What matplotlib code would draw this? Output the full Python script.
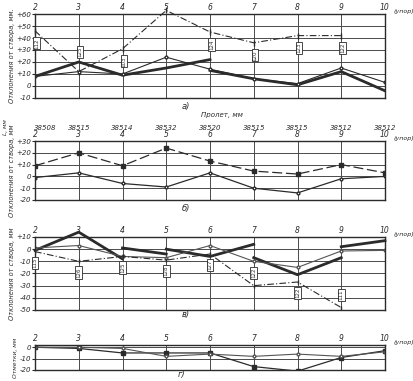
import matplotlib
matplotlib.use('Agg')
import matplotlib.pyplot as plt
import numpy as np

nan = np.nan

# supports
supports = [2, 3, 4, 5, 6, 7, 8, 9, 10]
spans = ['38508', '38515', '38514', '38532', '38520', '38515', '38515', '38512', '38512']

# panel a) deviations from alignment, mm
a_dash = [46, 12, 31, 63, 45, 36, 42, 42, nan]
a_thick1 = [8, 20, 9, 15, 22, nan, nan, nan, nan]
a_thick2 = [nan, nan, nan, nan, 13, 6, 1, 12, -4]
a_thin = [8, 12, 10, 24, 14, 6, 2, 15, 3]
a_boxes = ['112', '125', '103', '118', '124', '120', '123', '122', '']

# panel b)
b_dash = [9, 20, 9, 24, 13, 4.5, 2, 10, 3]
b_thin = [-1, 3, -6, -9, 3, -10, -14, -2, 0]

# panel v)
v_thick1 = [-1, 14, -8, nan, nan, nan, nan, nan, nan]
v_thick2 = [nan, nan, 1, -4, nan, nan, nan, nan, nan]
v_thick3 = [nan, nan, nan, 0, -6, 4, nan, nan, nan]
v_thick4 = [nan, nan, nan, nan, nan, -7, -21, -7, nan]
v_thick5 = [nan, nan, nan, nan, nan, nan, nan, 2, 7]
v_thin = [1, 3, -6, -7, 3, -10, -15, -1.5, -1]
v_dash = [-2, -10, -6, -9, -4, -30, -27, -48, nan]
v_boxes = ['115', '126', '125', '128', '127', '122', '122', '111', '']

# panel g) elevations, mm
g_line1 = [0, -1, -5, -5, -5, -17, -21, -9, -3]
g_line2 = [0, 0, -1, -8, -6, -8, -6, -8, -4]

ink = '#2b2b2b'
grid = '#4a4a4a'
fs = 5.5

fig = plt.figure(figsize=(4.13, 3.81), dpi=100)
W, H = 413.0, 381.0

def make_ax(top, bottom, ylim, yticks, ylabels):
    ax = fig.add_axes([35 / W, 1 - bottom / H, 350 / W, (bottom - top) / H])
    ax.set_xlim(2, 10)
    ax.set_ylim(*ylim)
    ax.set_xticks(supports)
    ax.set_xticklabels([str(s) for s in supports], fontsize=fs, style='italic', color=ink)
    ax.tick_params(axis='x', top=True, labeltop=True, bottom=False, labelbottom=False, length=0, pad=1.5)
    ax.set_yticks(yticks)
    ax.set_yticklabels(ylabels, fontsize=fs - 0.5, style='italic', color=ink)
    ax.tick_params(axis='y', length=2, pad=1, color=ink)
    ax.grid(True, color=grid, lw=0.7)
    for sp in ax.spines.values():
        sp.set_color(ink)
        sp.set_linewidth(1.0)
    ax.text(10.2, 1.0, '(упор)', transform=ax.get_xaxis_transform(), fontsize=4.6, style='italic',
            color=ink, ha='left', va='bottom')
    return ax

def lab(v):
    return '0' if v == 0 else ('+%d' % v if v > 0 else '%d' % v)

ylab_fs = 4.8

# ---- a)
ax = make_ax(14, 98, (-10, 60), range(-10, 61, 10), [lab(v) for v in range(-10, 61, 10)])
ax.plot(supports, a_dash, color=ink, lw=0.8, ls=(0, (6, 2, 1, 2)), marker='|', ms=4, clip_on=False)
ax.plot(supports, a_thick1, color=ink, lw=2.0)
ax.plot(supports, a_thick2, color=ink, lw=2.0)
ax.plot(supports, a_thin, color=ink, lw=0.8, marker='o', ms=2, mfc='white')
for x, y, t in zip(supports, a_dash, a_boxes):
    if t and not np.isnan(y):
        dy = 14 if x == 3 else -9
        ax.annotate(t, (x, y), xytext=(1, dy), textcoords='offset points', fontsize=4, rotation=90,
                    ha='center', va='center', color=ink,
                    bbox=dict(boxstyle='square,pad=0.15', fc='white', ec=ink, lw=0.6))
ax.set_ylabel('Отклонения от створа, мм.', fontsize=ylab_fs, style='italic', color=ink, labelpad=1)
fig.text(186 / W, 1 - 106 / H, 'а)', fontsize=6, style='italic', color=ink, ha='center', va='center')

# spans row
fig.text(222 / W, 1 - 115 / H, 'Пролет, мм', fontsize=fs - 0.5, style='italic', color=ink, ha='center', va='center')
for s, t in zip(supports, spans):
    xs = 35 + (s - 2) / 8 * 350
    if s == 2:
        xs += 10
    fig.text(xs / W, 1 - 128 / H, t, fontsize=fs - 0.5, style='italic', color=ink, ha='center', va='center')
fig.text(6 / W, 1 - 127 / H, 'L, мм', fontsize=4.2, style='italic', color=ink, rotation=90, ha='center', va='center')

# ---- b)
ax = make_ax(141, 200, (-20, 30), range(-20, 31, 10), [lab(v) for v in range(-20, 31, 10)])
ax.plot(supports, b_dash, color=ink, lw=0.9, ls=(0, (8, 3)), marker='s', ms=2.8)
ax.plot(supports, b_thin, color=ink, lw=0.9, marker='o', ms=2, mfc='white')
ax.set_ylabel('Отклонения от створа, мм', fontsize=ylab_fs, style='italic', color=ink, labelpad=1)
fig.text(186 / W, 1 - 208 / H, 'б)', fontsize=6, style='italic', color=ink, ha='center', va='center')

# ---- v)
ax = make_ax(237, 310, (-50, 10), range(-50, 11, 10), [lab(v) for v in range(-50, 11, 10)])
for ser in (v_thick1, v_thick2, v_thick3, v_thick4, v_thick5):
    ax.plot(supports, ser, color=ink, lw=2.0, clip_on=False)
ax.plot(supports, v_thin, color='#555555', lw=0.8, marker='o', ms=2, mfc='white')
ax.plot(supports, v_dash, color=ink, lw=0.8, ls=(0, (6, 2, 1, 2)), marker='|', ms=3)
for x, y, t in zip(supports, v_dash, v_boxes):
    if t and not np.isnan(y):
        dy = 9 if x in (7, 9) else -8
        ax.annotate(t, (x, y), xytext=(0, dy), textcoords='offset points', fontsize=4, rotation=90,
                    ha='center', va='center', color=ink,
                    bbox=dict(boxstyle='square,pad=0.15', fc='white', ec=ink, lw=0.6))
ax.set_ylabel('Отклонения от створа, мм', fontsize=ylab_fs, style='italic', color=ink, labelpad=1)
fig.text(186 / W, 1 - 314 / H, 'в)', fontsize=6, style='italic', color=ink, ha='center', va='center')

# ---- g)
ax = make_ax(345, 370, (-20, 2), [-20, -10, 0], ['-20', '-10', '0'])
ax.plot(supports, g_line1, color=ink, lw=0.9, marker='s', ms=2.5)
ax.plot(supports, g_line2, color='#555555', lw=0.8, marker='o', ms=2, mfc='white')
ax.set_ylabel('Отметки, мм', fontsize=4.3, style='italic', color=ink, labelpad=1)
fig.text(182 / W, 1 - 375 / H, 'г)', fontsize=6, style='italic', color=ink, ha='center', va='center')

fig.savefig('out.png', dpi=100, facecolor='white')
